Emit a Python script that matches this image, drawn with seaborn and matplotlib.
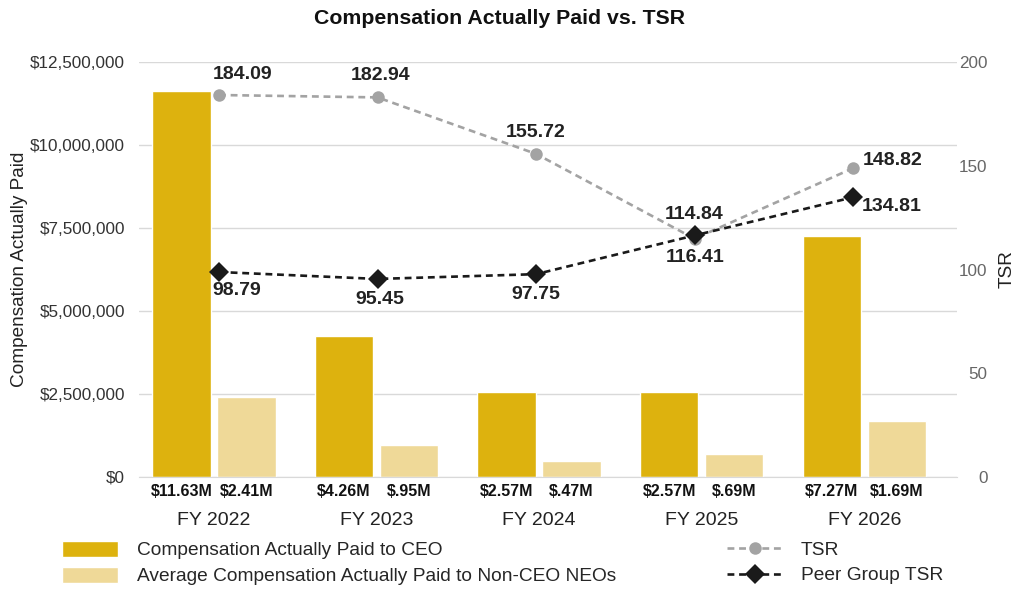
import numpy as np
import pandas as pd
import seaborn as sns
from matplotlib import pyplot as plt
from matplotlib.patches import Patch
from matplotlib.lines import Line2D

years = ["FY 2022", "FY 2023", "FY 2024", "FY 2025", "FY 2026"]
ceo_cap = [11.63, 4.26, 2.57, 2.57, 7.27]      # $M
neo_cap = [2.41, 0.95, 0.47, 0.69, 1.69]       # $M
ceo_labels = ["$11.63M", "$4.26M", "$2.57M", "$2.57M", "$7.27M"]
neo_labels = ["$2.41M", "$.95M", "$.47M", "$.69M", "$1.69M"]
tsr = [184.09, 182.94, 155.72, 114.84, 148.82]
peer_tsr = [98.79, 95.45, 97.75, 116.41, 134.81]

series_names = ["Compensation Actually Paid to CEO",
                "Average Compensation Actually Paid to Non-CEO NEOs"]
gold = "#DDB20E"
light_gold = "#EFD998"
tsr_grey = "#A3A3A3"
peer_black = "#1A1A1A"
dash = (0, (2.6, 1.8))

sns.set_style("white")
plt.rcParams['font.family'] = ['Liberation Sans', 'DejaVu Sans']

df = pd.DataFrame({
    "Year": years * 2,
    "Series": [series_names[0]] * 5 + [series_names[1]] * 5,
    "Value": [v * 1e6 for v in ceo_cap + neo_cap],
})

fig = plt.figure(figsize=(10.18, 5.93), dpi=100)
rect = [139 / 1018, 1 - 477 / 593, (957 - 139) / 1018, (477 - 62) / 593]
ax = fig.add_axes(rect)

sns.barplot(data=df, x="Year", y="Value", hue="Series", order=years,
            hue_order=series_names, palette=[gold, light_gold], saturation=1,
            width=0.8, gap=0.1, legend=False, ax=ax)
ax.set_xlim(-0.46, 4.57)
ax.set_ylim(0, 12.5e6)
ticks = np.arange(0, 12.5e6 + 1, 2.5e6)
ax.set_yticks(ticks)
ax.set_yticklabels([f"${int(v):,}" for v in ticks], fontsize=12.3, color="#333333")
ax.tick_params(axis="y", length=0, pad=10)
ax.tick_params(axis="x", length=0, pad=25.5, labelsize=14, labelcolor="#222222")
ax.grid(axis="y", color="#D9D9D9", linewidth=1)
ax.set_axisbelow(True)
for s in ["top", "right", "left"]:
    ax.spines[s].set_visible(False)
ax.spines["bottom"].set_color("#D9D9D9")
ax.set_xlabel("")
ax.set_ylabel("Compensation Actually Paid", fontsize=13.7, color="#222222")
ax.yaxis.set_label_coords(-0.136, 0.5)

# value labels under bars
for i in range(len(years)):
    for dx, txt in [(-0.2, ceo_labels[i]), (0.2, neo_labels[i])]:
        ax.annotate(txt, (i + dx, 0), xytext=(0, -5), textcoords="offset points",
                    ha="center", va="top", fontsize=11.5, fontweight="bold", color="#111111")

# TSR axis on its own layer
ax2 = fig.add_axes(rect, frameon=False)
x = np.arange(len(years))
sns.lineplot(x=x, y=tsr, ax=ax2, color=tsr_grey, linestyle=dash, linewidth=1.9,
             marker="o", markersize=9, markeredgewidth=0)
sns.lineplot(x=x, y=peer_tsr, ax=ax2, color=peer_black, linestyle=dash, linewidth=1.9,
             marker="D", markersize=10, markeredgewidth=0)
ax2.set_xlim(-0.505, 4.656)
ax2.set_ylim(0, 200)
ax2.set_xticks([])
ax2.yaxis.tick_right()
ax2.yaxis.set_label_position("right")
ax2.set_yticks([0, 50, 100, 150, 200])
ax2.tick_params(axis="y", length=0, pad=22, labelsize=12.3, labelcolor="#666666")
for lab in ax2.get_yticklabels():
    lab.set_horizontalalignment("right")
ax2.set_ylabel("TSR", fontsize=13.7, color="#222222", labelpad=8)
ax2.grid(False)

# offsets in pixels -> points (dpi 100)
px = 0.72
tsr_off = [(24, 12), (3, 13), (0, 13), (0, 16), (10, 8)]
tsr_va = ["bottom", "bottom", "bottom", "bottom", "center"]
tsr_ha = ["center", "center", "center", "center", "left"]
peer_off = [(18, -10), (2, -12), (0, -12), (1, -14), (9, -9)]
peer_va = ["top", "top", "top", "top", "center"]
peer_ha = ["center", "center", "center", "center", "left"]
for i in range(len(years)):
    ax2.annotate(f"{tsr[i]:.2f}", (x[i], tsr[i]),
                 xytext=(tsr_off[i][0] * px, tsr_off[i][1] * px), textcoords="offset points",
                 ha=tsr_ha[i], va=tsr_va[i], fontsize=14, fontweight="bold", color="#222222")
    ax2.annotate(f"{peer_tsr[i]:.2f}", (x[i], peer_tsr[i]),
                 xytext=(peer_off[i][0] * px, peer_off[i][1] * px), textcoords="offset points",
                 ha=peer_ha[i], va=peer_va[i], fontsize=14, fontweight="bold", color="#222222")

fig.text(499 / 1018, 1 - 18 / 593, "Compensation Actually Paid vs. TSR", ha="center", va="center",
         fontsize=15.3, fontweight="bold", color="#111111")

bar_handles = [Patch(facecolor=gold), Patch(facecolor=light_gold)]
fig.legend(bar_handles, series_names, loc="center left", bbox_to_anchor=(62 / 1018, 0.0506),
           frameon=False, fontsize=13.8, handlelength=2.9, handleheight=0.9,
           handletextpad=1.0, labelspacing=0.4, borderpad=0, borderaxespad=0)
line_handles = [Line2D([], [], color=tsr_grey, linestyle=dash, linewidth=1.9, marker="o",
                       markersize=9, markeredgewidth=0),
                Line2D([], [], color=peer_black, linestyle=dash, linewidth=1.9, marker="D",
                       markersize=10, markeredgewidth=0)]
fig.legend(line_handles, ["TSR", "Peer Group TSR"], loc="center left",
           bbox_to_anchor=(727 / 1018, 0.0506), frameon=False, fontsize=13.8,
           handlelength=2.9, handletextpad=0.95, labelspacing=0.4, borderpad=0, borderaxespad=0)

fig.savefig("out.png", dpi=100)
